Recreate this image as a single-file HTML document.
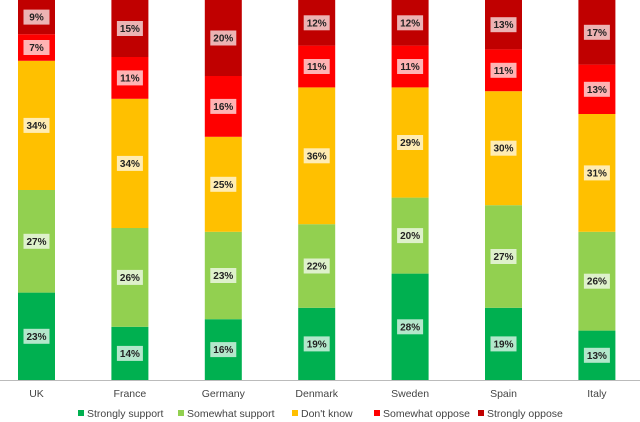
<!DOCTYPE html>
<html><head><meta charset="utf-8"><style>
body{margin:0;background:#fff;}
svg{display:block;font-family:"Liberation Sans",sans-serif;}
</style></head><body>
<svg id="c" width="640" height="422"></svg>
<script>
const categories=["UK","France","Germany","Denmark","Sweden","Spain","Italy"];
const seriesNames=["Strongly support","Somewhat support","Don't know","Somewhat oppose","Strongly oppose"];
const strongSupport=[23,14,16,19,28,19,13];
const someSupport=[27,26,23,22,20,27,26];
const dontKnow=[34,34,25,36,29,30,31];
const someOppose=[7,11,16,11,11,11,13];
const strongOppose=[9,15,20,12,12,13,17];
const series=[strongSupport,someSupport,dontKnow,someOppose,strongOppose];
const colors=["#00b050","#92d050","#ffc000","#ff0000","#c00000"];
const NS="http://www.w3.org/2000/svg";
const svg=document.getElementById('c');
const baseY=380, pxPer=3.8;
const y=v=>baseY-v*pxPer;
const xc=i=>36.5+i*93.4;
const bw=37;
function mk(t,a){const e=document.createElementNS(NS,t);for(const k in a)e.setAttribute(k,a[k]);svg.appendChild(e);return e;}
categories.forEach((cat,i)=>{
  let acc=0;
  series.forEach((s,j)=>{
    const v=s[i];
    const r=mk('rect',{x:xc(i)-bw/2,y:y(acc+v),width:bw,height:v*pxPer,fill:colors[j]});
    
    
    const mid=y(acc+v/2);
    const b=mk('rect',{x:xc(i)-13,y:mid-7.5,width:26,height:15,fill:'#fff','fill-opacity':0.7});
    
    
    const t=mk('text',{x:xc(i),y:mid+3.5,'text-anchor':'middle','font-size':'10','font-weight':'bold',fill:'#222'});
    t.textContent=v+'%';
    
    
    acc+=v;
  });
  const l=mk('text',{x:xc(i),y:397,'text-anchor':'middle','font-size':'10.5',fill:'#444'});
  l.textContent=cat;
  
  
});
const ax=mk('line',{x1:0,x2:640,y1:380.5,y2:380.5,stroke:'#bbb','stroke-width':1});


const lx=[78,178,292,374,478];
seriesNames.forEach((n,j)=>{
  const s=mk('rect',{x:lx[j],y:410,width:6,height:6,fill:colors[j]});
  
  
  const t=mk('text',{x:lx[j]+9,y:417,'font-size':'10.5',fill:'#444'});
  t.textContent=n;
  
  
});
</script>
</body></html>
